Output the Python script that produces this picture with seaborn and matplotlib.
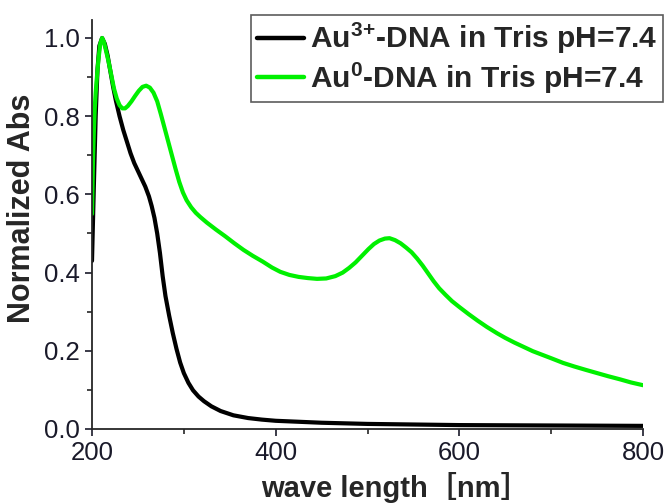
import numpy as np
import pandas as pd
import matplotlib
matplotlib.use('Agg')
import matplotlib.pyplot as plt
import seaborn as sns
from matplotlib.ticker import MultipleLocator, FormatStrFormatter

# Au3+-DNA (black)
au3_nm = [200, 202, 204, 206, 208, 211, 214, 217, 220, 223, 226, 230, 234, 238, 242,
          246, 250, 254, 258, 262, 265, 268, 271, 274, 277, 280, 284, 288, 292, 296,
          300, 305, 310, 316, 322, 330, 340, 354, 370, 385, 400, 450, 500, 600, 700, 800]
au3_abs = [0.43, 0.62, 0.80, 0.92, 0.98, 1.00, 0.985, 0.955, 0.915, 0.875, 0.84, 0.80, 0.765, 0.735, 0.705,
           0.68, 0.66, 0.64, 0.62, 0.595, 0.57, 0.54, 0.50, 0.45, 0.39, 0.34, 0.29, 0.245, 0.205, 0.17,
           0.143, 0.118, 0.099, 0.083, 0.071, 0.058, 0.046, 0.035, 0.028, 0.024, 0.021, 0.016, 0.013, 0.010, 0.009, 0.008]

# Au0-DNA (green)
au0_nm = [200, 201, 202, 203, 204, 205, 207, 209, 211, 213, 215, 218, 221, 224, 227,
          230, 233, 236, 239, 243, 247, 251, 255, 259, 263, 267, 271, 275, 279, 283,
          287, 291, 295, 299, 303, 308, 313, 318, 325, 335, 345, 355, 365, 375, 386,
          396, 405, 415, 425, 435, 445, 455, 465, 473, 480, 487, 494, 501, 507, 513,
          519, 524, 530, 536, 542, 548, 554, 560, 566, 572, 578, 585, 592, 600, 610,
          620, 630, 641, 650, 660, 670, 680, 690, 700, 713, 725, 738, 750, 762, 775, 787, 800]
au0_abs = [0.55, 0.68, 0.76, 0.82, 0.86, 0.89, 0.945, 0.985, 1.00, 0.99, 0.97, 0.94, 0.905, 0.87, 0.845,
           0.828, 0.82, 0.82, 0.826, 0.838, 0.852, 0.865, 0.875, 0.878, 0.873, 0.86, 0.838, 0.805, 0.77, 0.735,
           0.70, 0.665, 0.632, 0.605, 0.585, 0.567, 0.553, 0.542, 0.528, 0.51, 0.493, 0.475, 0.458, 0.443, 0.428,
           0.413, 0.402, 0.394, 0.389, 0.386, 0.384, 0.385, 0.391, 0.40, 0.412, 0.426, 0.443, 0.46, 0.473, 0.482,
           0.487, 0.488, 0.483, 0.475, 0.464, 0.452, 0.436, 0.418, 0.398, 0.378, 0.36, 0.343, 0.327, 0.312, 0.294,
           0.277, 0.261, 0.245, 0.233, 0.221, 0.21, 0.199, 0.19, 0.181, 0.169, 0.16, 0.151, 0.143, 0.135, 0.127, 0.119, 0.112]

labels = ['Au$^{3}$$^{+}$-DNA in Tris pH=7.4', 'Au$^{0}$-DNA in Tris pH=7.4']
colours = ['#000000', '#00f000']

df = pd.concat([
    pd.DataFrame({'nm': au3_nm, 'abs': au3_abs, 'sample': labels[0]}),
    pd.DataFrame({'nm': au0_nm, 'abs': au0_abs, 'sample': labels[1]}),
]).reset_index(drop=True)

sns.set_style('ticks')
plt.rcParams['font.family'] = ['Liberation Sans', 'DejaVu Sans']
plt.rcParams['mathtext.fontset'] = 'custom'
plt.rcParams['mathtext.rm'] = 'Liberation Sans:bold'
plt.rcParams['mathtext.it'] = 'Liberation Sans:bold'
plt.rcParams['mathtext.bf'] = 'Liberation Sans:bold'

fig = plt.figure(figsize=(6.68, 5.03), dpi=100)
ax = fig.add_axes([92 / 668, 74 / 503, 551 / 668, 409 / 503])

sns.lineplot(data=df, x='nm', y='abs', hue='sample', palette=colours,
             linewidth=3.0, ax=ax, legend=False, sort=False)

ax.set_xlim(200, 800)
ax.set_ylim(0, 1.046)
ax.xaxis.set_major_locator(MultipleLocator(200))
ax.xaxis.set_minor_locator(MultipleLocator(100))
ax.yaxis.set_major_locator(MultipleLocator(0.2))
ax.yaxis.set_minor_locator(MultipleLocator(0.1))
ax.yaxis.set_major_formatter(FormatStrFormatter('%.1f'))
ax.tick_params(which='major', length=5, width=1.2, labelsize=18.5, colors='#1a1a2a')
ax.tick_params(axis='x', which='major', pad=4)
ax.tick_params(axis='y', which='major', pad=4)
ax.tick_params(which='minor', length=3.5, width=1.2)
for s in ['top', 'right']:
    ax.spines[s].set_visible(False)
for s in ['left', 'bottom']:
    ax.spines[s].set_linewidth(1.3)

ax.set_ylabel('Normalized Abs', fontsize=22, fontweight='bold', labelpad=3)
ax.yaxis.set_label_coords(-0.1, 0.54)
ax.set_xlabel('wave length［nm］', fontsize=21, fontweight='bold',
              family=['Liberation Sans', 'Noto Sans CJK SC'])
ax.xaxis.set_label_coords(0.55, -0.105)

handles = [plt.Line2D([], [], color=c, linewidth=3.2) for c in colours]
leg = fig.legend(handles, labels, loc='upper right', bbox_to_anchor=(663 / 668, 488 / 503),
                 prop={'size': 21.5, 'weight': 'bold'}, frameon=True, fancybox=False,
                 handlelength=1.55, handletextpad=0.2, borderpad=0.2, labelspacing=0.15,
                 borderaxespad=0)
leg.get_frame().set_edgecolor('#333333')
leg.get_frame().set_linewidth(1.2)

fig.savefig('out.png', dpi=100)
